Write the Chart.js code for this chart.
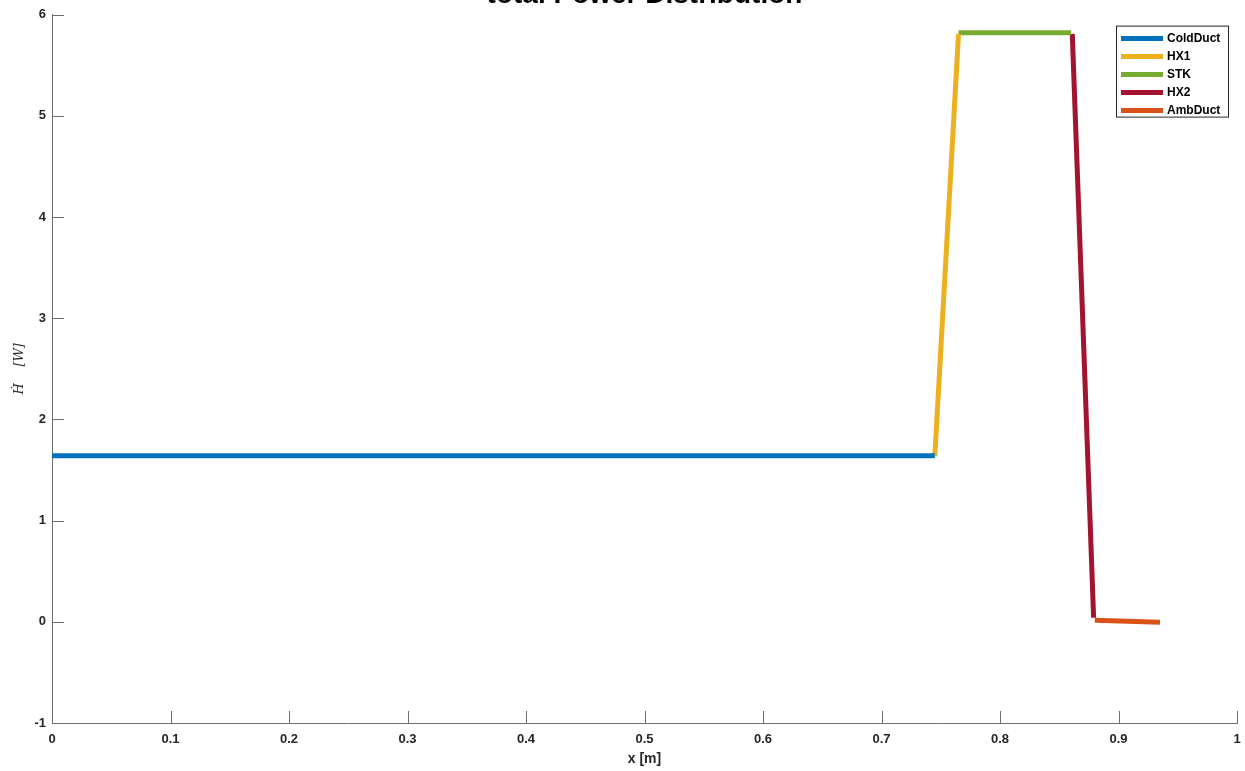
<!DOCTYPE html>
<html>
<head>
<meta charset="utf-8">
<script src="https://cdn.jsdelivr.net/npm/chart.js@4/dist/chart.umd.min.js"></script>
<style>
  body { margin: 0; background: #fff; }
  #wrap { position: relative; width: 1245px; height: 771px; overflow: hidden; background: #fff; }
  #powerChart { position: absolute; left: 0; top: -24px; }
</style>
</head>
<body>
<div id="wrap">
  <canvas id="powerChart" width="1245" height="795"></canvas>
</div>
<script>
// Segment data (x in m, H-dot in W)
const coldDuctX = [0, 0.745];
const coldDuctY = [1.64, 1.64];
const hx1X = [0.745, 0.765];
const hx1Y = [1.64, 5.81];
const stkX = [0.765, 0.86];
const stkY = [5.82, 5.82];
const hx2X = [0.861, 0.879];
const hx2Y = [5.81, 0.04];
const ambDuctX = [0.88, 0.935];
const ambDuctY = [0.015, -0.005];

const seriesNames = ['ColdDuct', 'HX1', 'STK', 'HX2', 'AmbDuct'];
const seriesColors = ['#0072BD', '#EDB120', '#77AC30', '#A2142F', '#D95319'];

const xTicks = [0, 0.1, 0.2, 0.3, 0.4, 0.5, 0.6, 0.7, 0.8, 0.9, 1];
const yTicks = [-1, 0, 1, 2, 3, 4, 5, 6];

function toPoints(xs, ys) {
    return xs.map((x, i) => ({ x: x, y: ys[i] }));
}

const allX = [coldDuctX, hx1X, stkX, hx2X, ambDuctX];
const allY = [coldDuctY, hx1Y, stkY, hx2Y, ambDuctY];

const datasets = seriesNames.map((name, i) => ({
    label: name,
    data: toPoints(allX[i], allY[i]),
    showLine: true,
    borderColor: seriesColors[i],
    backgroundColor: seriesColors[i],
    borderWidth: 5,
    borderCapStyle: 'butt',
    pointRadius: 0,
    fill: false
}));

const axisColor = '#6e6e6e';
const tickFont = { family: 'Liberation Sans, Arial, sans-serif', size: 13, weight: 'bold' };

// MATLAB style inward tick marks
const inwardTicks = {
    id: 'inwardTicks',
    afterDraw(chart) {
        const ctx = chart.ctx;
        const area = chart.chartArea;
        const len = 12;
        ctx.save();
        ctx.strokeStyle = axisColor;
        ctx.lineWidth = 1;
        ctx.beginPath();
        xTicks.forEach(v => {
            const px = Math.round(chart.scales.x.getPixelForValue(v)) + 0.5;
            ctx.moveTo(px, area.bottom);
            ctx.lineTo(px, area.bottom - len);
        });
        yTicks.forEach(v => {
            const py = Math.round(chart.scales.y.getPixelForValue(v)) + 0.5;
            ctx.moveTo(area.left, py);
            ctx.lineTo(area.left + len, py);
        });
        ctx.stroke();
        ctx.restore();
    }
};

// Boxed legend in the top right corner of the axes
const boxLegend = {
    id: 'boxLegend',
    afterDraw(chart) {
        const ctx = chart.ctx;
        const area = chart.chartArea;
        const w = 112, h = 91;
        const left = area.right - 9 - w;
        const top = area.top + 11;
        ctx.save();
        ctx.fillStyle = '#fff';
        ctx.fillRect(left, top, w, h);
        ctx.strokeStyle = '#262626';
        ctx.lineWidth = 1;
        ctx.strokeRect(left + 0.5, top + 0.5, w, h);
        ctx.font = 'bold 12px Liberation Sans, Arial, sans-serif';
        ctx.textBaseline = 'middle';
        chart.data.datasets.forEach((ds, i) => {
            const cy = top + 13 + i * 18;
            ctx.strokeStyle = ds.borderColor;
            ctx.lineWidth = 5;
            ctx.beginPath();
            ctx.moveTo(left + 5, cy);
            ctx.lineTo(left + 47, cy);
            ctx.stroke();
            ctx.fillStyle = '#000';
            ctx.fillText(ds.label, left + 51, cy);
        });
        ctx.restore();
    }
};

const ctx = document.getElementById('powerChart').getContext('2d');
new Chart(ctx, {
    type: 'scatter',
    data: { datasets: datasets },
    options: {
        responsive: false,
        animation: false,
        layout: { padding: { left: 0, right: 8, top: 0, bottom: 0 } },
        plugins: {
            legend: { display: false },
            tooltip: { enabled: false },
            title: {
                display: true,
                fullSize: false,
                text: 'total Power Distribution',
                color: '#000',
                font: { family: 'Liberation Sans, Arial, sans-serif', size: 28, weight: 'bold' },
                padding: { top: 2, bottom: 3 }
            }
        },
        scales: {
            x: {
                type: 'linear',
                min: 0,
                max: 1,
                afterBuildTicks(scale) { scale.ticks = xTicks.map(v => ({ value: v })); },
                afterFit(scale) {
                    scale.height = 48;
                    scale.paddingLeft = 0;
                    scale.paddingRight = 0;
                },
                grid: { drawOnChartArea: false, drawTicks: false },
                border: { display: true, color: axisColor, width: 1 },
                ticks: {
                    color: '#262626',
                    font: tickFont,
                    padding: 9,
                    maxRotation: 0,
                    callback: v => String(v)
                },
                title: {
                    display: true,
                    text: 'x [m]',
                    color: '#262626',
                    font: { family: 'Liberation Sans, Arial, sans-serif', size: 14, weight: 'bold' },
                    padding: { top: 0, bottom: 3 }
                }
            },
            y: {
                type: 'linear',
                min: -1,
                max: 6,
                afterBuildTicks(scale) { scale.ticks = yTicks.map(v => ({ value: v })); },
                afterFit(scale) { scale.width = 52; },
                grid: { drawOnChartArea: false, drawTicks: false },
                border: { display: true, color: axisColor, width: 1 },
                ticks: {
                    color: '#262626',
                    font: tickFont,
                    padding: 6,
                    callback: v => String(v)
                },
                title: {
                    display: true,
                    text: '\u1E22    [W]',
                    color: '#262626',
                    font: { family: 'DejaVu Serif, serif', size: 13, style: 'italic' },
                    padding: { top: 12, bottom: 0 }
                }
            }
        }
    },
    plugins: [inwardTicks, boxLegend]
});
</script>
</body>
</html>
